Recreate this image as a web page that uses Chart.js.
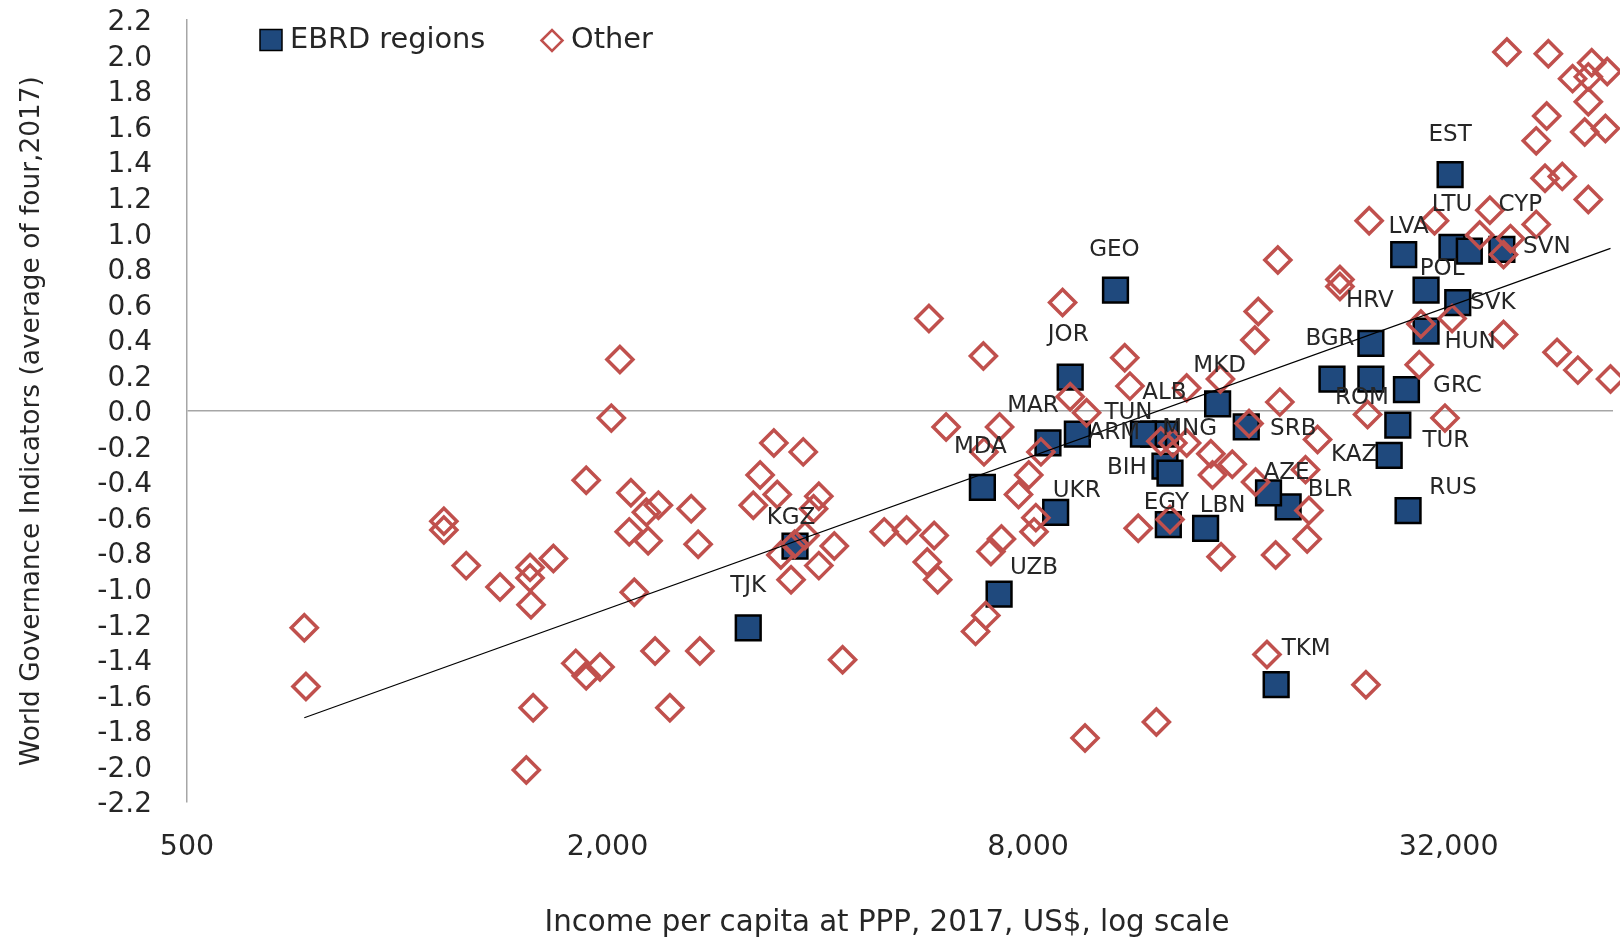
<!DOCTYPE html>
<html>
<head>
<meta charset="utf-8">
<script src="https://cdn.jsdelivr.net/npm/chart.js@4.4.1/dist/chart.umd.min.js"></script>
<style>
html,body{margin:0;padding:0;background:#fff;}
canvas{display:block;}
</style>
</head>
<body>
<canvas id="c" width="1620" height="938"></canvas>
<script>
// EBRD economies: country code, income per capita (PPP, 2017 US$), WGI average
const ebrdCodes  = ['EST','LTU','CYP','LVA','SVN','POL','SVK','HUN','HRV','BGR','ROM','GRC','TUR','KAZ','RUS','BLR','AZE','TKM','LBN','EGY','BIH','','MKD','SRB','ALB','MNG','TUN','ARM','GEO','JOR','MAR','MDA','UKR','UZB','KGZ','TJK'];
const ebrdIncome = [32150,32350,34250,27590,38130,29700,32970,29700,24760,21780,24760,27840,27060,26300,27990,18850,17670,18120,14360,12700,12560,12770,14940,16420,12580,12100,11700,9410,10670,9190,8540,6880,8760,7270,3710,3180];
const ebrdWgi    = [1.33,0.92,0.90,0.88,0.91,0.68,0.61,0.45,0.38,0.18,0.18,0.12,-0.08,-0.25,-0.56,-0.54,-0.46,-1.54,-0.66,-0.64,-0.31,-0.35,0.04,-0.09,-0.13,-0.13,-0.13,-0.13,0.68,0.19,-0.18,-0.43,-0.57,-1.03,-0.76,-1.22];

// Other economies
const otherIncome = [736,740,1166,1166,1255,1403,1549,1549,1554,1565,1530,1673,1801,1864,1951,1864,2025,2083,2160,2148,2184,2273,2286,2365,2339,2456,2635,2696,2711,3307,3460,3812,3499,3233,4013,3944,3705,3541,3834,4223,4013,3662,4340,4978,5359,5869,5737,5937,5769,6903,6105,7282,6917,8345,6727,6958,7077,7327,8017,7750,8206,8157,8962,9190,9700,9650,11000,11190,11500,12770,12210,12390,12890,13490,13490,14610,14690,15680,15080,15110,16930,16570,16890,17080,18220,18340,17580,18090,19960,20190,20070,20770,22360,22360,24490,24620,24360,29040,29200,30540,31610,32360,35440,36650,38340,38340,39230,42700,38770,44440,48140,51270,50700,53960,50700,44200,42700,50100,53640,43960,46530,50700,45740,48980,54550];
const otherWgi    = [-1.22,-1.55,-0.62,-0.67,-0.87,-0.99,-0.88,-0.94,-1.09,-1.67,-2.02,-0.83,-1.42,-1.49,-1.44,-0.39,-0.04,0.29,-0.46,-0.68,-1.02,-0.57,-0.73,-0.53,-1.35,-1.67,-0.55,-0.75,-1.35,-0.36,-0.18,-0.23,-0.47,-0.53,-0.48,-0.55,-0.75,-0.81,-0.70,-0.76,-0.87,-0.95,-1.40,-0.68,-0.67,-0.70,-0.85,-0.95,0.52,0.31,-0.09,-0.09,-0.23,-0.23,-1.24,-1.15,-0.79,-0.72,-0.36,-0.47,-0.60,-0.68,0.61,0.08,-0.01,-1.84,0.30,0.14,-0.66,-0.61,-1.75,-0.17,-0.18,-0.18,0.13,-0.24,-0.36,-0.30,0.18,-0.82,-0.40,-0.07,0.40,0.56,0.85,0.05,-1.37,-0.81,-0.33,-0.56,-0.72,-0.16,0.74,0.70,-0.02,1.07,-1.54,0.26,0.49,1.07,-0.04,0.52,0.99,1.13,0.43,0.88,0.97,1.05,2.02,2.01,1.87,1.96,1.88,1.91,1.74,1.66,1.52,1.57,1.59,1.31,1.32,1.19,0.33,0.23,0.18];

// Linear trend (in log income), end points
const trendIncome = [736, 54550];
const trendWgi    = [-1.726, 0.915];

// Axes
const xTickValues = [500, 2000, 8000, 32000];
const xMin = 500, xMax = 55000;
const yMin = -2.2, yMax = 2.2, yStep = 0.2;

const xTitle = 'Income per capita at PPP, 2017, US$, log scale';
const yTitle = 'World Governance Indicators (average of four,2017)';

// Where each country code sits relative to its marker (px)
const labelOffsets = {
  EST:[0,-40], LTU:[0,-42], CYP:[51,-46], LVA:[5,-28], SVN:[45,-2], POL:[16,-21],
  SVK:[35,0], HUN:[44,11], HRV:[-1,-42], BGR:[-2,-40], ROM:[-9,19], GRC:[51,-4],
  TUR:[48,16], KAZ:[-35,0], RUS:[45,-22], BLR:[42,-17], AZE:[18,-20], TKM:[30,-36],
  LBN:[17,-22], EGY:[-2,-22], BIH:[-38,2], MKD:[2,-38], SRB:[47,2], ALB:[-1,-41],
  MNG:[36,-5], TUN:[-15,-21], ARM:[37,-1], GEO:[-1,-40], JOR:[-2,-42], MAR:[-15,-37],
  MDA:[-2,-40], UKR:[21,-21], UZB:[35,-26], KGZ:[-4,-28], TJK:[0,-42]
};

const FONT = "'DejaVu Sans', sans-serif";
const TEXT = '#262626';
const AXIS = '#a6a6a6';
const BLUE = '#1F497D';
const RED = '#C0504D';

const toPoints = (xs, ys) => xs.map((x, i) => ({ x: x, y: ys[i] }));

// Country code labels next to the EBRD markers
const codeLabels = {
  id: 'codeLabels',
  afterDatasetsDraw(chart) {
    const meta = chart.getDatasetMeta(0);
    const ctx = chart.ctx;
    ctx.save();
    ctx.font = '23px ' + FONT;
    ctx.fillStyle = TEXT;
    ctx.textAlign = 'center';
    ctx.textBaseline = 'middle';
    meta.data.forEach((pt, i) => {
      const code = ebrdCodes[i];
      if (!code) return;
      const off = labelOffsets[code] || [0, -40];
      ctx.fillText(code, pt.x + off[0], pt.y + off[1]);
    });
    ctx.restore();
  }
};

// Axis titles
const axisTitles = {
  id: 'axisTitles',
  afterDraw(chart) {
    const ctx = chart.ctx;
    ctx.save();
    ctx.fillStyle = TEXT;
    ctx.textAlign = 'center';
    ctx.textBaseline = 'middle';
    ctx.font = '29.3px ' + FONT;
    ctx.fillText(xTitle, 887, 923);
    ctx.translate(32, 421);
    ctx.rotate(-Math.PI / 2);
    ctx.font = '26.4px ' + FONT;
    ctx.fillText(yTitle, 0, 0);
    ctx.restore();
  }
};

// Legend drawn inside the plot, top left
const insideLegend = {
  id: 'insideLegend',
  afterDraw(chart) {
    const ctx = chart.ctx;
    const ds = chart.data.datasets;
    ctx.save();
    ctx.font = '28.8px ' + FONT;
    ctx.textBaseline = 'middle';
    ctx.textAlign = 'left';
    // EBRD square
    ctx.fillStyle = BLUE;
    ctx.fillRect(260, 29.5, 22, 21);
    ctx.lineWidth = 1.5;
    ctx.strokeStyle = '#000';
    ctx.strokeRect(260, 29.5, 22, 21);
    ctx.fillStyle = TEXT;
    ctx.fillText(ds[0].label, 290, 41);
    // Other diamond
    const cx = 552, cy = 40.5, r = 10.5;
    ctx.beginPath();
    ctx.moveTo(cx - r, cy); ctx.lineTo(cx, cy - r); ctx.lineTo(cx + r, cy); ctx.lineTo(cx, cy + r);
    ctx.closePath();
    ctx.lineWidth = 2.5;
    ctx.strokeStyle = RED;
    ctx.stroke();
    ctx.fillStyle = TEXT;
    ctx.fillText(ds[1].label, 571, 41);
    ctx.restore();
  }
};

new Chart(document.getElementById('c'), {
  type: 'scatter',
  data: {
    datasets: [
      {
        label: 'EBRD regions',
        data: toPoints(ebrdIncome, ebrdWgi),
        pointStyle: 'rect',
        pointRadius: 17.5,
        backgroundColor: BLUE,
        borderColor: '#000',
        borderWidth: 2.5,
        order: 2,
        clip: false
      },
      {
        label: 'Other',
        data: toPoints(otherIncome, otherWgi),
        pointStyle: 'rectRot',
        pointRadius: 13,
        backgroundColor: 'rgba(0,0,0,0)',
        borderColor: RED,
        borderWidth: 3.5,
        order: 1,
        clip: false
      },
      {
        type: 'line',
        label: 'Trend',
        data: toPoints(trendIncome, trendWgi),
        borderColor: '#000',
        borderWidth: 1.2,
        pointRadius: 0,
        fill: false,
        order: 0
      }
    ]
  },
  options: {
    responsive: false,
    animation: false,
    events: [],
    layout: { autoPadding: false, padding: { left: 0, right: 7, top: 20, bottom: 0 } },
    plugins: {
      legend: { display: false },
      tooltip: { enabled: false }
    },
    scales: {
      x: {
        type: 'logarithmic',
        bounds: 'data',
        min: xMin,
        max: xMax,
        afterBuildTicks(scale) { scale.ticks = xTickValues.map(v => ({ value: v })); },
        afterFit(scale) {
          scale.height = 136;
          scale.paddingLeft = 0;
          scale.paddingRight = 0;
        },
        grid: { display: false, drawTicks: false },
        border: { display: false },
        ticks: {
          autoSkip: false,
          maxRotation: 0,
          padding: 28,
          color: TEXT,
          font: { family: FONT, size: 28.5 },
          callback: v => Number(v).toLocaleString('en-US')
        },
        title: { display: false }
      },
      y: {
        min: yMin,
        max: yMax,
        afterFit(scale) {
          scale.width = 187;
          scale.paddingTop = 0;
          scale.paddingBottom = 0;
        },
        grid: {
          drawTicks: false,
          lineWidth: 1.5,
          color: c => (c.tick && Math.abs(c.tick.value) < 1e-9) ? AXIS : 'rgba(0,0,0,0)'
        },
        border: { display: true, color: AXIS, width: 1.5 },
        ticks: {
          stepSize: yStep,
          autoSkip: false,
          padding: 35,
          labelOffset: 3,
          color: TEXT,
          font: { family: FONT, size: 28 },
          callback: v => (Math.abs(v) < 1e-9 ? 0 : v).toFixed(1)
        },
        title: { display: false }
      }
    }
  },
  plugins: [codeLabels, axisTitles, insideLegend]
});
</script>
</body>
</html>
